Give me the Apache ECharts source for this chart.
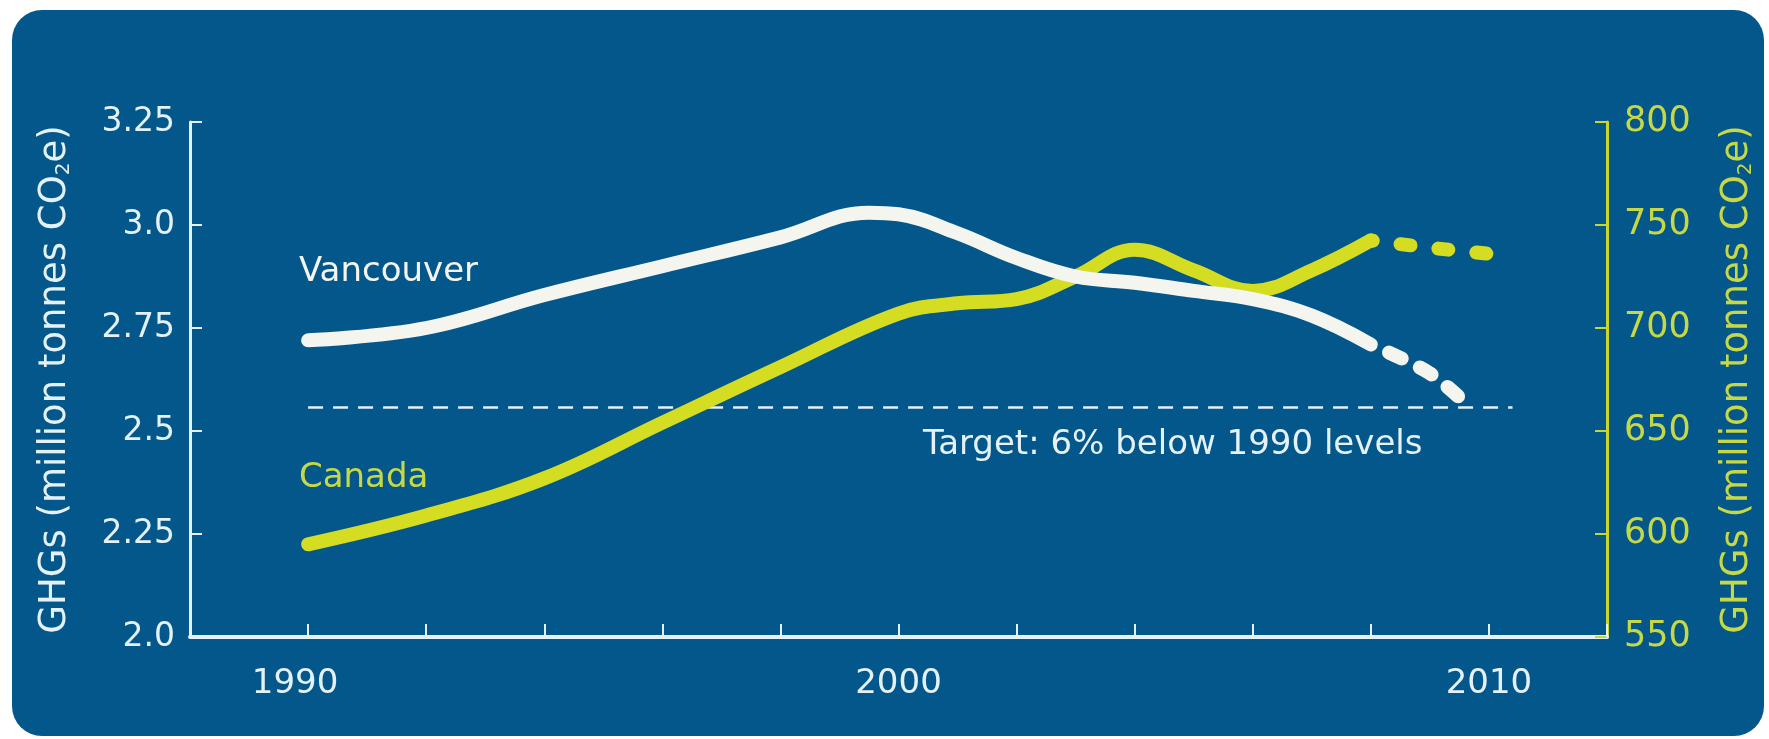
<!DOCTYPE html>
<html>
<head>
<meta charset="utf-8">
<script src="https://cdn.jsdelivr.net/npm/echarts@6/dist/echarts.min.js"></script>
<style>
  html, body { margin: 0; padding: 0; background: #ffffff; }
  #chart { width: 1769px; height: 739px; }
</style>
</head>
<body>
<div id="chart"></div>
<script>
// Greenhouse gas emissions: Vancouver (left axis) vs Canada (right axis)
const vancouverYears = [1990, 1992, 1994, 1996, 1998, 1999.5, 2000, 2001, 2002, 2003, 2004, 2005, 2006, 2007, 2008];
const vancouverValues = [2.72, 2.75, 2.83, 2.90, 2.97, 3.03, 3.026, 2.98, 2.92, 2.875, 2.86, 2.84, 2.82, 2.78, 2.71];
const vancouverProjYears = [2008, 2009, 2009.7];
const vancouverProjValues = [2.71, 2.64, 2.555];

const canadaYears = [1990, 1992, 1994, 1996, 1998, 2000, 2001, 2002, 2003, 2004, 2005, 2006, 2007, 2008];
const canadaValues = [595, 609, 627, 654, 681, 707, 712, 714, 725, 738, 728, 718, 728, 742.5];
const canadaProjYears = [2008, 2009, 2010];
const canadaProjValues = [742.5, 739, 736];

// Target: 6% below 1990 levels
const targetYears = [1990, 2010.4];
const targetValue = vancouverValues[0] * 0.94;

const leftTickLabels = ['2.0', '2.25', '2.5', '2.75', '3.0', '3.25'];
const rightTickLabels = ['550', '600', '650', '700', '750', '800'];
const yearLabels = [1990, 2000, 2010];

const BG = '#03578a';
const WHITE = '#f4f5ee';
const LIME = '#d4dd22';
const LIME_TEXT = '#c6d845';
const AXIS_WHITE = '#e4f1f6';
const FONT = '"DejaVu Sans"';

const pairs = (xs, ys) => xs.map((x, i) => [x, ys[i]]);

const chart = echarts.init(document.getElementById('chart'), null, { renderer: 'canvas' });

const nameRich = (color) => ({
  a: { fontSize: 37, color: color, fontFamily: FONT },
  s: { fontSize: 20, color: color, fontFamily: FONT, verticalAlign: 'bottom', padding: [14, 0, 0, 0] }
});

chart.setOption({
  backgroundColor: '#ffffff',
  animation: false,
  graphic: [
    {
      type: 'rect', z: -10, silent: true,
      shape: { x: 12, y: 10, width: 1752, height: 726, r: 30 },
      style: { fill: BG }
    },
    {
      type: 'text', left: 299, top: 255, z: 10,
      style: { text: 'Vancouver', fill: WHITE, font: '34px ' + FONT }
    },
    {
      type: 'text', left: 299, top: 461, z: 10,
      style: { text: 'Canada', fill: LIME_TEXT, font: '34px ' + FONT }
    },
    {
      type: 'text', left: 923, top: 428, z: 10,
      style: { text: 'Target: 6% below 1990 levels', fill: AXIS_WHITE, font: '34px ' + FONT }
    }
  ],
  grid: { left: 190, right: 162, top: 122, bottom: 102, containLabel: false },
  xAxis: {
    type: 'value', min: 1988, max: 2012, interval: 2,
    axisLine: { lineStyle: { color: AXIS_WHITE, width: 4 } },
    axisTick: { inside: true, length: 13, lineStyle: { color: AXIS_WHITE, width: 2 } },
    splitLine: { show: false },
    axisLabel: {
      margin: 30, color: AXIS_WHITE, fontSize: 34, fontFamily: FONT,
      formatter: (v) => {
        if (yearLabels.indexOf(v) < 0) return '';
        return v === yearLabels[0] ? '{first|' + v + '}' : String(v);
      },
      rich: {
        first: { color: AXIS_WHITE, fontSize: 34, fontFamily: FONT, padding: [0, 26, 0, 0] }
      }
    }
  },
  yAxis: [
    {
      type: 'value', min: 2.0, max: 3.25, interval: 0.25, position: 'left',
      name: '{a|GHGs (million tonnes CO}{s|2}{a|e)}',
      nameLocation: 'middle', nameRotate: 90, nameGap: 116,
      nameTextStyle: { rich: nameRich(AXIS_WHITE) },
      axisLine: { show: true, lineStyle: { color: AXIS_WHITE, width: 3 } },
      axisTick: { show: true, inside: true, length: 12, lineStyle: { color: AXIS_WHITE, width: 2 } },
      splitLine: { show: false },
      axisLabel: {
        margin: 15, color: AXIS_WHITE, fontSize: 33, fontFamily: FONT,
        formatter: (v, i) => leftTickLabels[i]
      }
    },
    {
      type: 'value', min: 550, max: 800, interval: 50, position: 'right',
      name: '{a|GHGs (million tonnes CO}{s|2}{a|e)}',
      nameLocation: 'middle', nameRotate: 90, nameGap: 112,
      nameTextStyle: { rich: nameRich(LIME_TEXT) },
      axisLine: { show: true, lineStyle: { color: '#c9d62c', width: 3 } },
      axisTick: { show: true, inside: true, length: 12, lineStyle: { color: '#c9d62c', width: 2 } },
      splitLine: { show: false },
      axisLabel: {
        margin: 17, color: LIME_TEXT, fontSize: 35, fontFamily: FONT,
        formatter: (v, i) => rightTickLabels[i]
      }
    }
  ],
  series: [
    {
      name: 'Target', type: 'line', yAxisIndex: 0, symbol: 'none', z: 1,
      data: targetYears.map((x) => [x, targetValue]),
      lineStyle: { color: AXIS_WHITE, width: 2.5, type: [15, 10] }
    },
    {
      name: 'Canada', type: 'line', yAxisIndex: 1, symbol: 'none', smooth: 0.4, z: 2,
      data: pairs(canadaYears, canadaValues),
      lineStyle: { color: LIME, width: 14, cap: 'round', join: 'round' }
    },
    {
      name: 'Canada projection', type: 'line', yAxisIndex: 1, symbol: 'none', smooth: 0.3, z: 2,
      data: pairs(canadaProjYears, canadaProjValues),
      lineStyle: { color: LIME, width: 14, cap: 'round', type: [10, 28], dashOffset: -30 }
    },
    {
      name: 'Vancouver', type: 'line', yAxisIndex: 0, symbol: 'none', smooth: 0.4, z: 3,
      data: pairs(vancouverYears, vancouverValues),
      lineStyle: { color: WHITE, width: 14, cap: 'round', join: 'round' }
    },
    {
      name: 'Vancouver projection', type: 'line', yAxisIndex: 0, symbol: 'none', smooth: 0.3, z: 3,
      data: pairs(vancouverProjYears, vancouverProjValues),
      lineStyle: { color: WHITE, width: 14, cap: 'round', type: [14, 20], dashOffset: -20 }
    }
  ]
});
</script>
</body>
</html>
